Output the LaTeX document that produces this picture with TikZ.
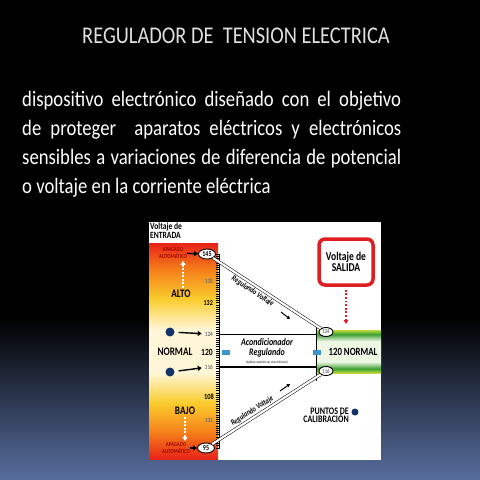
\documentclass[tikz,border=0pt]{standalone}
\usepackage{fontspec}
\setmainfont[FakeStretch=0.85]{Carlito}
\newfontfamily\diag[FakeStretch=0.8]{Carlito}
\usetikzlibrary{shapes.geometric,arrows.meta}
\definecolor{slideblue}{RGB}{88,110,158}
\definecolor{dotblue}{RGB}{18,52,105}
\definecolor{tabblue}{RGB}{60,150,205}
\definecolor{salidared}{RGB}{222,30,35}
\definecolor{apagred}{RGB}{160,5,5}
\definecolor{barred}{RGB}{232,35,25}
\definecolor{barorange}{RGB}{245,125,25}
\definecolor{baryellow}{RGB}{250,205,45}
\definecolor{barpale}{RGB}{255,246,215}
\definecolor{bandgreen}{RGB}{60,160,50}
\definecolor{bandlime}{RGB}{190,215,60}
\definecolor{bandpale}{RGB}{238,246,228}
\pgfdeclareverticalshading{entrada}{100bp}{color(0bp)=(barred); color(25bp)=(barred);
  color(31bp)=(barorange); color(38bp)=(baryellow); color(45bp)=(barpale);
  color(55bp)=(barpale); color(62bp)=(baryellow); color(69bp)=(barorange);
  color(75bp)=(barred); color(100bp)=(barred)}
\pgfdeclareverticalshading{salidaband}{100bp}{color(0bp)=(bandlime); color(25bp)=(bandlime);
  color(30bp)=(bandgreen); color(38bp)=(bandpale); color(62bp)=(bandpale);
  color(70bp)=(bandgreen); color(75bp)=(bandlime); color(100bp)=(bandlime)}
\begin{document}
\begin{tikzpicture}[x=1pt, y=-1pt,
    every node/.style={inner sep=0pt},
    title/.style={text=black!12, font=\fontsize{24}{24}\selectfont},
    parline/.style={text=white, anchor=base west, font=\fontsize{22}{29}\selectfont},
    oval/.style={ellipse, draw, fill=white, line width=0.9pt, minimum width=17pt,
      minimum height=10pt, font=\diag\bfseries\fontsize{7.5}{7.5}\selectfont},
    num/.style={anchor=east, text=black!55, font=\diag\bfseries\fontsize{6.5}{6.5}\selectfont},
    zone/.style={font=\diag\bfseries\fontsize{11.5}{11.5}\selectfont},
    apag/.style={text=apagred, align=center, font=\diag\bfseries\fontsize{6}{7.5}\selectfont},
    dot/.style={circle, fill=dotblue, minimum size=9pt},
    tab/.style={fill=tabblue, minimum width=8pt, minimum height=5pt},
    lbl/.style={font=\diag\bfseries\itshape\fontsize{8}{8}\selectfont},
    regula/.style={double, line width=0.5pt, double distance=2.2pt},
    shortarrow/.style={-{Triangle[length=4pt,width=5pt]}, line width=1.4pt},
    smallarrow/.style={-{Triangle[length=3pt,width=3.5pt]}, line width=1pt},
    whitedash/.style={draw=white, line width=2pt, dash pattern=on 2pt off 1.5pt,
      -{Triangle[length=4pt,width=5pt]}},
    reddots/.style={draw=salidared, line width=1.8pt, dash pattern=on 1.8pt off 1.8pt,
      -{Triangle[length=4pt,width=4.5pt]}}]
  \useasboundingbox (0,0) rectangle (480,480);
  % slide
  \fill[black] (0,0) rectangle (480,480);
  \shade[top color=black, bottom color=slideblue] (0,318) rectangle (480,480);
  \node[title, anchor=base] (title) at (236,43) {REGULADOR DE~ TENSION ELECTRICA};
  \node[parline] (linea1) at (22,106)
    {\makebox[379pt][s]{dispositivo electrónico diseñado con el objetivo}};
  \node[parline] (linea2) at (22,135)
    {\makebox[379pt][s]{de proteger~ aparatos eléctricos y electrónicos}};
  \node[parline] (linea3) at (22,164)
    {\makebox[379pt][s]{sensibles a variaciones de diferencia de potencial}};
  \node[parline] (linea4) at (22,193) {o voltaje en la corriente eléctrica};

  % picture
  \fill[white] (149,222) rectangle (381,460);
  \shade[shading=entrada] (149,243) rectangle (218,459);
  \shade[shading=salidaband] (317,330) rectangle (381,373);
  \node[anchor=north west, align=left, font=\diag\bfseries\fontsize{9.5}{9}\selectfont]
    (entrada) at (150,223) {Voltaje de\\ENTRADA};

  % scale
  \draw[line width=3pt, dash pattern=on 1pt off 1.2pt] (217.5,254) -- (217.5,449);
  \draw[line width=1.2pt] (219.3,254) -- (219.3,449);
  \node[oval] (145) at (207,254) {145};
  \node[oval] (95) at (206,448) {95};
  \node[num] (s138) at (213,281) {138};
  \node[num, text=black, font=\diag\bfseries\fontsize{7.5}{7.5}\selectfont] (s132) at (213,303) {132};
  \node[num] (s124) at (213,334) {124};
  \node[num, text=black, font=\diag\bfseries\fontsize{9.5}{9.5}\selectfont] (s120) at (213,352) {120};
  \node[num] (s116) at (213,367) {116};
  \node[num, text=black, font=\diag\bfseries\fontsize{8}{8}\selectfont] (s108) at (214,397) {108};
  \node[num] (s102) at (213,420) {102};

  \node[apag] (apag1) at (173,253) {APAGADO\\AUTOMÁTICO};
  \node[apag] (apag2) at (176,448) {APAGADO\\AUTOMÁTICO};
  \node[zone] (alto) at (181,294) {ALTO};
  \node[zone] (normal) at (175,352) {NORMAL};
  \node[zone] (bajo) at (185,411) {BAJO};
  \node[dot] (dot1) at (170,332) {};
  \node[dot] (dot2) at (170,372) {};
  \draw[shortarrow] (apag1) -- (145);
  \draw[shortarrow] (apag2) -- (95);
  \draw[shortarrow, shorten <=4pt, shorten >=3pt] (dot1) -- (s124);
  \draw[shortarrow, shorten <=4pt, shorten >=3pt] (dot2) -- (s116);
  \draw[whitedash, shorten <=2pt, shorten >=2pt] ([xshift=2pt]alto.north) -- ([xshift=2pt]alto.north |- apag1.south);
  \draw[whitedash, shorten <=2pt, shorten >=1pt] (bajo.south) -- (bajo.south |- apag2.north);

  % regulator
  \node[oval, minimum width=14pt, minimum height=9pt, text=black!55,
    font=\diag\bfseries\fontsize{6}{6}\selectfont] (124) at (326,332) {124};
  \node[oval, minimum width=14pt, minimum height=9pt, text=black!55,
    font=\diag\bfseries\fontsize{6}{6}\selectfont] (116) at (326,371) {116};
  \draw[line width=1.3pt] (219,334.5) -- (316.5,334.5);
  \draw[line width=1.3pt] (219,367) -- (316.5,367);
  \draw[line width=1.2pt] (316.5,324) -- (316.5,381);
  \node[tab] (tabin) at (226,352) {};
  \node[tab] (tabout) at (316.5,352) {};
  \node[align=center, font=\diag\bfseries\itshape\fontsize{10}{9.5}\selectfont]
    (acond) at (267,348) {Acondicionador\\Regulando};
  \node[font=\diag\fontsize{3.5}{3.5}\selectfont] (optima) at (267,362)
    {(óptima condición de Línea Eléctrica)};
  \node[zone, font=\diag\bfseries\fontsize{11}{11}\selectfont] (normalout) at (353,352) {120 NORMAL};

  \draw[regula] (145) -- (124) node[pos=0.4, sloped, below=2.5pt, lbl] {Regulando Voltaje};
  \draw[regula] (95) -- (116) node[pos=0.4, sloped, above=2.5pt, lbl] {Regulando Voltaje};
  \coordinate (ua1) at (281,312);
  \coordinate (ua2) at (290,319);
  \coordinate (da1) at (280,391);
  \coordinate (da2) at (290,384);
  \draw[smallarrow] (ua1) -- (ua2);
  \draw[smallarrow] (da1) -- (da2);

  % salida
  \node[draw=salidared, line width=3.5pt, rounded corners=6pt, minimum width=54pt,
    minimum height=46pt, align=center, font=\diag\bfseries\fontsize{12}{11}\selectfont]
    (salida) at (346,262) {Voltaje de\\SALIDA};
  \draw[reddots, shorten <=3pt, shorten >=3pt] (salida.south) -- (salida.south |- 124.north);

  \node[anchor=east, align=right, font=\diag\bfseries\fontsize{10}{8.5}\selectfont]
    (puntos) at (349,415) {PUNTOS DE\\CALIBRACIÓN};
  \node[dot, minimum size=7pt] (dot3) at (355,412) {};
\end{tikzpicture}
\end{document}
